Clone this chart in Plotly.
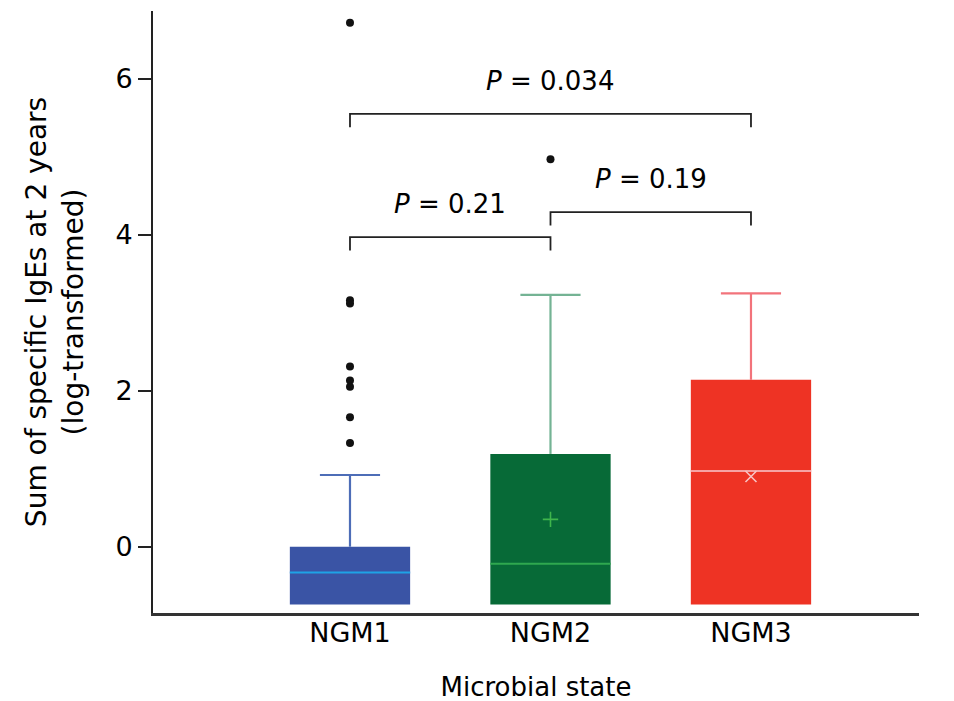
import plotly.graph_objects as go

# ---------------- data ----------------
groups = ["NGM1", "NGM2", "NGM3"]
q1 = [-0.74, -0.74, -0.74]
median = [-0.33, -0.22, 0.97]
q3 = [0.0, 1.19, 2.14]
upper_whisker = [0.92, 3.23, 3.25]
mean_vals = [None, 0.35, 0.90]
outliers = {
    "NGM1": [6.72, 3.16, 3.12, 2.31, 2.13, 2.05, 1.66, 1.33],
    "NGM2": [4.97],
    "NGM3": [],
}
comparisons = [  # (group a, group b, bracket level, label)
    (0, 1, 3.97, "0.21"),
    (1, 2, 4.29, "0.19"),
    (0, 2, 5.55, "0.034"),
]

# ---------------- style ----------------
fill_colors = ["#3a54a5", "#076a37", "#ee3324"]
whisker_colors = ["#4d6db7", "#74b394", "#f2737b"]
median_colors = ["#1ea3e6", "#2fa84f", "#f6a3a3"]
mean_colors = [None, "#3fb54c", "#f8c3c3"]
mean_symbols = [None, "cross-thin", "x-thin"]
FONT = "DejaVu Sans"
box_w = 0.6
cap_half = 0.15
x_pos = list(range(len(groups)))

fig = go.Figure()

# box bodies
fig.add_trace(go.Bar(
    x=x_pos, base=q1, y=[b - a for a, b in zip(q1, q3)], width=box_w,
    marker=dict(color=fill_colors, line=dict(width=0)), showlegend=False,
    hoverinfo="skip"))

for i, g in enumerate(groups):
    xc = x_pos[i]
    # whisker
    fig.add_trace(go.Scatter(
        x=[xc, xc, None, xc - cap_half, xc + cap_half],
        y=[q3[i], upper_whisker[i], None, upper_whisker[i], upper_whisker[i]],
        mode="lines", line=dict(color=whisker_colors[i], width=2.2),
        showlegend=False, hoverinfo="skip"))
    # median
    fig.add_trace(go.Scatter(
        x=[xc - box_w / 2, xc + box_w / 2], y=[median[i], median[i]],
        mode="lines", line=dict(color=median_colors[i], width=2),
        showlegend=False, hoverinfo="skip"))
    # mean
    if mean_vals[i] is not None:
        fig.add_trace(go.Scatter(
            x=[xc], y=[mean_vals[i]], mode="markers",
            marker=dict(symbol=mean_symbols[i], size=11,
                        line=dict(color=mean_colors[i], width=1.6)),
            showlegend=False, hoverinfo="skip"))
    # outliers
    if outliers[g]:
        fig.add_trace(go.Scatter(
            x=[xc] * len(outliers[g]), y=outliers[g], mode="markers",
            marker=dict(color="#111111", size=8),
            showlegend=False, hoverinfo="skip"))

# significance brackets
drop = 0.17
for a, b, lvl, p in comparisons:
    fig.add_trace(go.Scatter(
        x=[x_pos[a], x_pos[a], x_pos[b], x_pos[b]],
        y=[lvl - drop, lvl, lvl, lvl - drop],
        mode="lines", line=dict(color="#222222", width=1.8),
        showlegend=False, hoverinfo="skip"))
    fig.add_annotation(
        x=(x_pos[a] + x_pos[b]) / 2, y=lvl + 0.42,
        text=f"<i>P</i> = {p}", showarrow=False,
        font=dict(family=FONT, size=26, color="#000000"))

fig.update_layout(
    width=954, height=701,
    margin=dict(l=145, r=43, t=3, b=96),
    paper_bgcolor="white", plot_bgcolor="white",
    font=dict(family=FONT, color="#000000"),
    showlegend=False,
    xaxis=dict(
        range=[-0.9825, 2.838], tickmode="array", tickvals=x_pos, ticktext=groups,
        showgrid=False, zeroline=False, showline=True, linecolor="#333333",
        linewidth=2.5, ticks="", tickfont=dict(family=FONT, size=27),
        ticklabelstandoff=-6,
        title=dict(text="Microbial state", font=dict(family=FONT, size=26),
                   standoff=31)),
    yaxis=dict(
        range=[-0.85, 6.87], tickmode="array", tickvals=[0, 2, 4, 6],
        showgrid=False, zeroline=False, showline=True, linecolor="#222222",
        linewidth=2, ticks="outside", ticklen=13, tickwidth=2, tickcolor="#222222",
        tickfont=dict(family=FONT, size=27),
        title=dict(text="Sum of specific IgEs at 2 years<br>(log-transformed)",
                   font=dict(family=FONT, size=28), standoff=24)),
)

fig.write_html("out.html")
